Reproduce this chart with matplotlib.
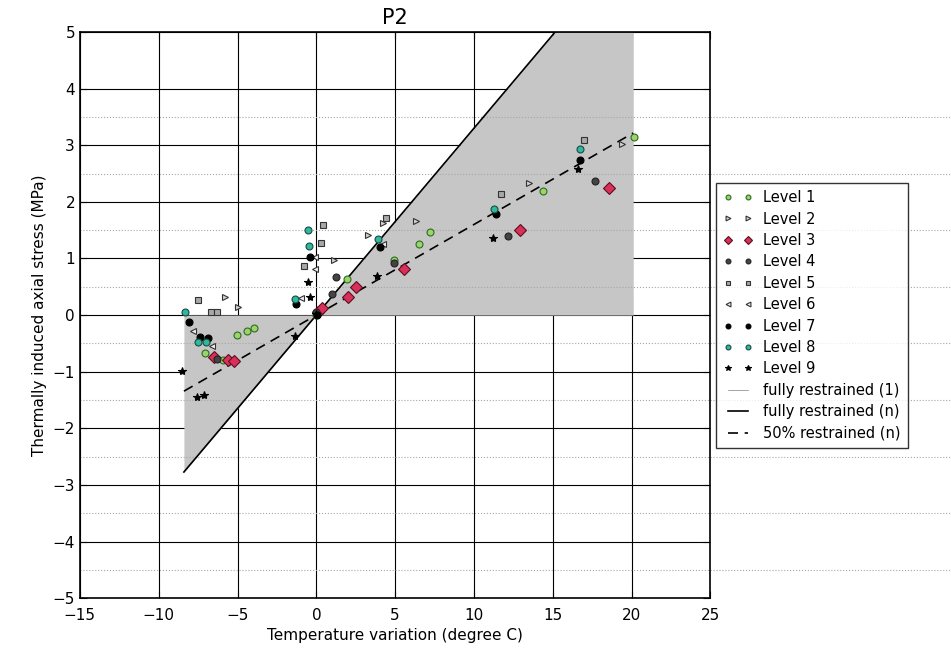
import numpy as np
import matplotlib
matplotlib.use('Agg')
import matplotlib.pyplot as plt

# temperature range of the record and restraint slopes (MPa per degree C)
t_min, t_max = -8.4, 20.1
slope_full = 0.33
slope_half = 0.16

# measured points, one (x, y) list per level
lvl1_x = [-7.05, -5.9, -5.04, -4.4, -3.98, 0.0, 1.95, 4.9, 6.5, 7.24, 14.37, 20.15]
lvl1_y = [-0.67, -0.8, -0.35, -0.28, -0.22, 0.0, 0.64, 0.97, 1.25, 1.47, 2.19, 3.15]
lvl2_x = [-5.8, -5.0, 0.05, 1.1, 3.26, 4.23, 6.33, 13.5, 19.37]
lvl2_y = [0.32, 0.15, 0.03, 0.97, 1.41, 1.62, 1.67, 2.33, 3.03]
lvl3_x = [-6.5, -5.6, -5.25, 0.1, 0.36, 1.99, 2.52, 5.55, 12.9, 18.56]
lvl3_y = [-0.74, -0.8, -0.82, 0.05, 0.12, 0.32, 0.49, 0.82, 1.5, 2.24]
lvl4_x = [-6.27, 0.0, 1.0, 1.27, 4.9, 12.17, 17.7]
lvl4_y = [-0.77, 0.05, 0.37, 0.67, 0.92, 1.39, 2.37]
lvl5_x = [-7.5, -6.7, -6.3, -0.76, 0.3, 0.42, 4.44, 11.7, 17.0]
lvl5_y = [0.27, 0.05, 0.05, 0.87, 1.27, 1.59, 1.71, 2.14, 3.1]
lvl6_x = [-7.8, -6.6, -1.0, -0.06, -0.06, 0.0, 4.23]
lvl6_y = [-0.28, -0.55, 0.31, 0.82, 1.03, 0.02, 1.25]
lvl7_x = [-8.1, -7.4, -6.9, -1.27, -0.38, 0.02, 4.06, 11.37, 16.7]
lvl7_y = [-0.13, -0.39, -0.41, 0.2, 1.02, 0.0, 1.21, 1.78, 2.74]
lvl8_x = [-8.3, -7.5, -7.0, -1.38, -0.49, -0.55, 3.9, 11.3, 16.7]
lvl8_y = [0.05, -0.48, -0.48, 0.28, 1.22, 1.5, 1.34, 1.87, 2.93]
lvl9_x = [-8.5, -7.6, -7.15, -1.38, -0.53, -0.42, 0.0, 3.85, 11.2, 16.6]
lvl9_y = [-0.98, -1.45, -1.41, -0.37, 0.58, 0.32, 0.02, 0.69, 1.37, 2.58]

levels = [
    ('Level 1', lvl1_x, lvl1_y, 'o', '#9ad46a', '#2f6a22', 5),
    ('Level 2', lvl2_x, lvl2_y, '>', '#d8d2c8', '#333333', 5),
    ('Level 3', lvl3_x, lvl3_y, 'D', '#d9305a', '#5a1020', 6),
    ('Level 4', lvl4_x, lvl4_y, 'o', '#444444', '#222222', 5),
    ('Level 5', lvl5_x, lvl5_y, 's', '#a8a8a8', '#333333', 5),
    ('Level 6', lvl6_x, lvl6_y, '<', '#f0f0f0', '#333333', 5),
    ('Level 7', lvl7_x, lvl7_y, 'o', '#000000', '#000000', 5),
    ('Level 8', lvl8_x, lvl8_y, 'o', '#2fb8a0', '#1a4a40', 5),
    ('Level 9', lvl9_x, lvl9_y, '*', '#000000', '#000000', 6),
]

fig = plt.figure(figsize=(9.51, 6.53), dpi=100)
ax = fig.add_axes([0.084, 0.084, 0.663, 0.867])

# shaded envelope between no restraint and full restraint
tx = np.linspace(t_min, t_max, 200)
ax.fill_between(tx, 0, np.minimum(slope_full * tx, 5), color='#c6c6c6', lw=0, zorder=1)

# faint dotted half-unit lines (run out past the frame)
for yy in [-4.5, -3.5, -2.5, -1.5, -0.5, 0.5, 1.5, 2.5, 3.5]:
    ax.plot([0, 1.38], [yy, yy], transform=ax.get_yaxis_transform(), clip_on=False,
            ls=':', color='0.65', lw=0.8, zorder=1.5)

ax.grid(True, color='black', lw=0.8, ls='-', zorder=2)
ax.set_axisbelow(True)

for name, xs, ys, mk, fc, ec, ms in levels:
    ax.plot(xs, ys, ls='none', marker=mk, mfc=fc, mec=ec, ms=ms, mew=0.8,
            label=name, zorder=5)

line_x = np.array([t_min, t_max])
ax.plot(line_x, slope_full * line_x, color='0.5', lw=0.5, label='fully restrained (1)', zorder=3)
ax.plot(line_x, slope_full * line_x, color='black', lw=1.2, label='fully restrained (n)', zorder=3)
ax.plot(line_x, slope_half * line_x, color='black', lw=1.2, dashes=(6, 4),
        label='50% restrained (n)', zorder=3)

ax.set_xlim(-15, 25)
ax.set_ylim(-5, 5)
ax.set_xticks(np.arange(-15, 26, 5))
ax.set_yticks(np.arange(-5, 6, 1))
ax.tick_params(direction='in', top=True, right=True, labelsize=11, length=5)
ax.tick_params(axis='x', pad=7)
for sp in ax.spines.values():
    sp.set_linewidth(1.2)

ax.set_title('P2', fontsize=15)
ax.set_xlabel('Temperature variation (degree C)', fontsize=11)
ax.set_ylabel('Thermally induced axial stress (MPa)', fontsize=11)

leg = fig.legend(loc='center left', bbox_to_anchor=(0.753, 0.517), numpoints=2,
                 fontsize=10.5, frameon=True, fancybox=False, edgecolor='black',
                 labelspacing=0.44, handlelength=2.0, borderpad=0.5, markerscale=0.7,
                 borderaxespad=0, handletextpad=0.7)
leg.get_frame().set_linewidth(1.0)

fig.savefig('out.png', dpi=100)
